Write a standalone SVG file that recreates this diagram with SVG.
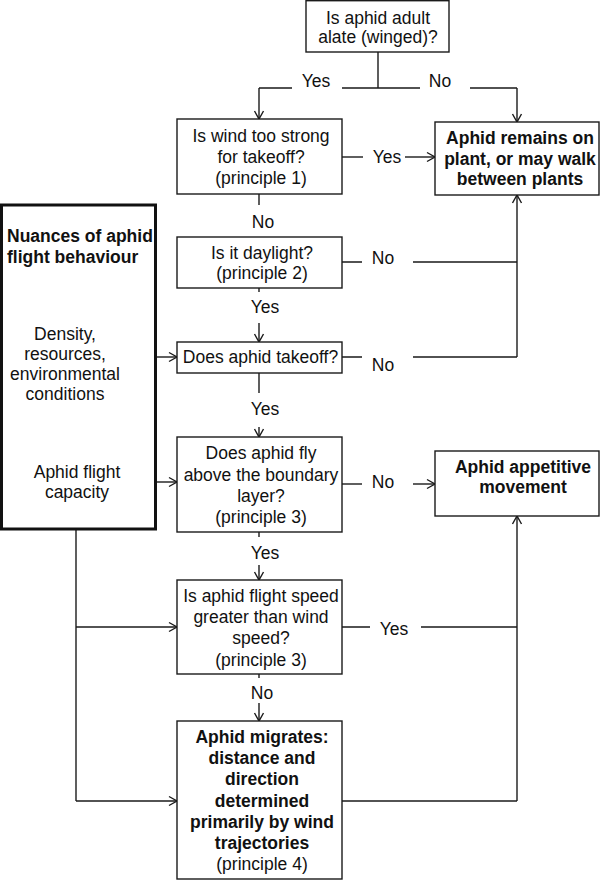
<svg xmlns="http://www.w3.org/2000/svg" width="600" height="881" viewBox="0 0 600 881">
<style>
  .box{fill:#fff;stroke:#1a1a1a;stroke-width:1.4}
  .thick{fill:#fff;stroke:#111;stroke-width:3}
  .t{font-family:"Liberation Sans",Arial,sans-serif;font-size:17.5px;fill:#111;text-anchor:middle}
  .b{font-weight:bold}
  .l{text-anchor:start}
  .c{fill:none;stroke:#1a1a1a;stroke-width:1.4}
  .a{marker-end:url(#arr)}
</style>
<defs>
  <marker id="arr" markerUnits="userSpaceOnUse" markerWidth="12" markerHeight="12" refX="9" refY="6" orient="auto">
    <path d="M1,1.5 L9,6 L1,10.5" fill="none" stroke="#1a1a1a" stroke-width="1.4"/>
  </marker>
</defs>
<g id="connectors">
  <path class="c" d="M378,52 V88 M259,88 H292 M342,88 H420 M470,88 H517"/>
  <path class="c a" d="M259,88 V119"/>
  <path class="c a" d="M517,88 V122"/>
  <path class="c" d="M342,157 H363"/>
  <path class="c a" d="M405,157 H435"/>
  <path class="c" d="M259,194 V205"/>
  <path class="c" d="M342,262 H362 M413,262 H517"/>
  <path class="c" d="M342,357 H362 M413,357 H517"/>
  <path class="c a" d="M517,357 V195"/>
  <path class="c" d="M259,288 V292"/>
  <path class="c a" d="M259,323 V342"/>
  <path class="c a" d="M157,357 H177"/>
  <path class="c" d="M259,373 V393"/>
  <path class="c a" d="M259,427 V437"/>
  <path class="c a" d="M157,482 H177"/>
  <path class="c" d="M342,484 H362"/>
  <path class="c a" d="M413,484 H435"/>
  <path class="c" d="M259,532 V537"/>
  <path class="c a" d="M259,565 V580"/>
  <path class="c" d="M342,627 H370 M421,627 H517"/>
  <path class="c" d="M259,674 V678"/>
  <path class="c a" d="M259,703 V721"/>
  <path class="c" d="M342,801 H517"/>
  <path class="c a" d="M517,801 V516"/>
  <path class="c" d="M76,530 V801"/>
  <path class="c a" d="M76,627 H177"/>
  <path class="c a" d="M76,801 H177"/>
  <text class="t" x="316" y="87">Yes</text>
  <text class="t" x="440" y="87">No</text>
  <text class="t" x="387" y="163">Yes</text>
  <text class="t" x="263" y="228">No</text>
  <text class="t" x="383" y="263.5">No</text>
  <text class="t" x="265" y="313">Yes</text>
  <text class="t" x="383" y="371">No</text>
  <text class="t" x="265" y="415">Yes</text>
  <text class="t" x="383" y="488">No</text>
  <text class="t" x="265" y="559">Yes</text>
  <text class="t" x="394" y="634.5">Yes</text>
  <text class="t" x="262" y="699">No</text>
</g>
<g id="n-alate">
  <rect class="box" x="306" y="0.7" width="143" height="51.3"/>
  <text class="t" x="378" y="23.5">Is aphid adult</text>
  <text class="t" x="378" y="43">alate (winged)?</text>
</g>
<g id="n-wind">
  <rect class="box" x="177" y="119" width="165" height="75"/>
  <text class="t" x="261" y="142">Is wind too strong</text>
  <text class="t" x="261" y="163">for takeoff?</text>
  <text class="t" x="261" y="184">(principle 1)</text>
</g>
<g id="n-remains">
  <rect class="box" x="435" y="122" width="164" height="73"/>
  <text class="t b" x="520" y="144">Aphid remains on</text>
  <text class="t b" x="520" y="164.5">plant, or may walk</text>
  <text class="t b" x="520" y="185">between plants</text>
</g>
<g id="n-nuances">
  <rect class="thick" x="1.5" y="205" width="154" height="324"/>
  <text class="t b l" x="7" y="241.5">Nuances of aphid</text>
  <text class="t b l" x="7" y="263">flight behaviour</text>
  <text class="t" x="65" y="340">Density,</text>
  <text class="t" x="65" y="360">resources,</text>
  <text class="t" x="65" y="380">environmental</text>
  <text class="t" x="65" y="400">conditions</text>
  <text class="t" x="77" y="478">Aphid flight</text>
  <text class="t" x="77" y="498">capacity</text>
</g>
<g id="n-daylight">
  <rect class="box" x="177" y="237" width="165" height="51"/>
  <text class="t" x="262" y="259">Is it daylight?</text>
  <text class="t" x="262" y="279">(principle 2)</text>
</g>
<g id="n-takeoff">
  <rect class="box" x="177" y="342" width="165" height="31"/>
  <text class="t" x="260.5" y="363">Does aphid takeoff?</text>
</g>
<g id="n-boundary">
  <rect class="box" x="177" y="437" width="165" height="95"/>
  <text class="t" x="261" y="459">Does aphid fly</text>
  <text class="t" x="261" y="480.5">above the boundary</text>
  <text class="t" x="261" y="502">layer?</text>
  <text class="t" x="261" y="523">(principle 3)</text>
</g>
<g id="n-appetitive">
  <rect class="box" x="435" y="451" width="164" height="65"/>
  <text class="t b" x="523" y="473">Aphid appetitive</text>
  <text class="t b" x="523" y="493">movement</text>
</g>
<g id="n-speed">
  <rect class="box" x="177" y="580" width="165" height="94"/>
  <text class="t" x="261" y="602">Is aphid flight speed</text>
  <text class="t" x="261" y="623">greater than wind</text>
  <text class="t" x="261" y="644">speed?</text>
  <text class="t" x="261" y="666">(principle 3)</text>
</g>
<g id="n-migrates">
  <rect class="box" x="177" y="721" width="165" height="158"/>
  <text class="t b" x="262" y="743">Aphid migrates:</text>
  <text class="t b" x="262" y="764">distance and</text>
  <text class="t b" x="262" y="785">direction</text>
  <text class="t b" x="262" y="806.5">determined</text>
  <text class="t b" x="262" y="828">primarily by wind</text>
  <text class="t b" x="262" y="849">trajectories</text>
  <text class="t" x="262" y="870">(principle 4)</text>
</g>
</svg>
